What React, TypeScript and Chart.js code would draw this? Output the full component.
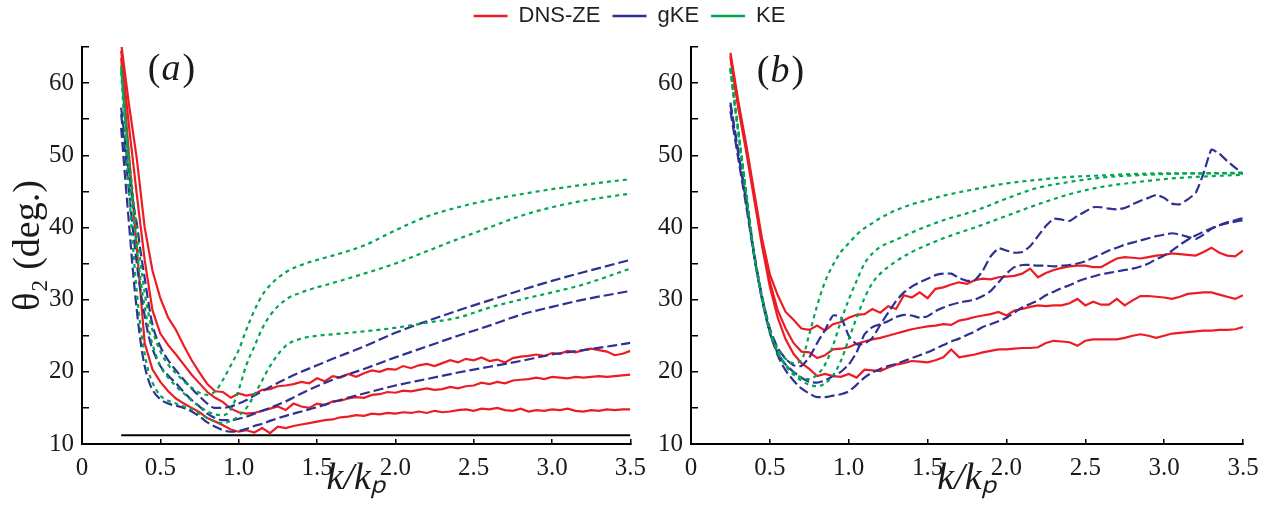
import React, { useEffect, useRef } from 'react';
import { Chart, registerables } from 'chart.js';

Chart.register(...registerables);

const RED = '#ED1C24';
const BLUE = '#2E3192';
const GREEN = '#00A651';
const INK = '#1a1a1a';
const SERIF = "'Liberation Serif', serif";
const SANS = "'Liberation Sans', sans-serif";

const seriesNames = ['DNS-ZE', 'gKE', 'KE'];
const yTitle = 'θ₂ (deg.)';
const xTitle = 'k/kₚ';
const panelLetters = ['a', 'b'];
const xTickLabels = ['0', '0.5', '1.0', '1.5', '2.0', '2.5', '3.0', '3.5'];

// k/kp grids
const kFine = [
  0.25, 0.3, 0.35, 0.4, 0.45, 0.5, 0.55, 0.6, 0.65, 0.7,
  0.75, 0.8, 0.85, 0.9, 0.95, 1.0, 1.05, 1.1, 1.15, 1.2,
  1.25, 1.3, 1.35, 1.4, 1.45, 1.5, 1.55, 1.6, 1.65, 1.7,
  1.75, 1.8, 1.85, 1.9, 1.95, 2.0, 2.05, 2.1, 2.15, 2.2,
  2.25, 2.3, 2.35, 2.4, 2.45, 2.5, 2.55, 2.6, 2.65, 2.7,
  2.75, 2.8, 2.85, 2.9, 2.95, 3.0, 3.05, 3.1, 3.15, 3.2,
  3.25, 3.3, 3.35, 3.4, 3.45, 3.5,
];
const kSmooth = [
  0.25, 0.275, 0.3, 0.325, 0.35, 0.375, 0.4, 0.425, 0.45,
  0.5, 0.55, 0.6, 0.65, 0.7, 0.75, 0.8, 0.85, 0.9, 0.95, 1.0, 1.05, 1.1, 1.15, 1.2,
  1.3, 1.4, 1.5, 1.6,
  1.8, 2.0, 2.2, 2.4, 2.6, 2.8, 3.0, 3.2,
  3.5,
];

// ---------- panel (a) ----------
const dnsA1 = [
  65.5, 57, 49.5, 40, 34, 30.2, 27.5, 25.8, 23.6, 21.6,
  19.9, 18.3, 17.3, 17.2, 16.4, 17.0, 16.7, 16.9, 17.5, 17.6,
  18.0, 18.1, 18.3, 18.6, 18.4, 19.1, 18.7, 19.4, 19.2, 19.7,
  19.3, 19.8, 20.2, 20.0, 20.4, 20.3, 20.8, 20.5, 20.9, 21.1,
  20.8, 21.2, 21.6, 21.3, 21.8, 21.6, 22.0, 21.5, 21.7, 21.3,
  21.9, 22.1, 22.2, 22.4, 22.2, 22.6, 22.5, 22.9, 22.7, 23.0,
  23.2, 23.0, 22.8, 22.3, 22.5, 22.9,
];
const dnsA2 = [
  64.5, 54, 44.5, 35.5, 28.5, 25.3, 23.7, 22.4, 21.0, 19.6,
  18.4, 17.2, 16.4, 15.8, 14.9, 14.4, 14.2, 14.3, 14.6, 14.9,
  15.2, 14.7, 15.6, 15.2, 15.0, 15.6, 15.4, 15.9, 16.0, 16.3,
  16.5, 16.4, 16.8, 16.9, 17.2, 17.1, 17.4, 17.3, 17.5, 17.7,
  17.5, 17.6, 17.9, 17.7, 18.0, 18.1, 18.5, 18.3, 18.6, 18.4,
  18.8, 18.9, 19.0, 19.2, 19.0, 19.3, 19.2, 19.1, 19.3, 19.2,
  19.3, 19.4, 19.3, 19.4, 19.5, 19.6,
];
const dnsA3 = [
  63.5, 50, 37, 24, 20.3, 18.6, 17.3, 16.3, 15.6, 15.0,
  14.4, 13.6, 13.1, 12.6, 12.0, 11.7, 11.9, 11.6, 12.2, 11.5,
  12.4, 12.2, 12.5, 12.7, 12.9, 13.1, 13.3, 13.4, 13.7, 13.8,
  14.0, 13.9, 14.2, 14.1, 14.3, 14.2, 14.4, 14.3, 14.5, 14.3,
  14.6, 14.4, 14.5, 14.7, 14.8, 14.6, 14.9, 14.8, 15.0, 14.7,
  14.6, 14.9, 14.5, 14.7, 14.6, 14.8, 14.7, 14.9, 14.6, 14.5,
  14.7, 14.6, 14.8, 14.7, 14.8, 14.8,
];
const gkeA1 = [
  56.6, 52, 47.5, 43.5, 40.5, 36.5, 33, 29.5, 26.5,
  23.5, 21.6, 20.2, 18.9, 17.7, 16.6, 15.6, 15.0, 15.0, 15.2, 15.6, 16.1, 16.7, 17.3, 17.9,
  19.0, 20.0, 20.9, 21.8,
  23.5, 25.4, 27.0, 28.5, 29.9, 31.3, 32.6, 33.8,
  35.5,
];
const gkeA2 = [
  55.7, 50.5, 45, 39.7, 35, 31, 27.8, 25.0, 23.2,
  20.8, 19.5, 18.4, 17.2, 16.1, 15.2, 14.2, 13.6, 13.3, 13.3, 13.5, 13.8, 14.2, 14.6, 15.0,
  15.9, 17.0, 18.0, 18.9,
  20.4, 22.0, 23.5, 25.0, 26.4, 27.9, 29.0, 30.0,
  31.2,
];
const gkeA3 = [
  53.8, 47, 40.5, 34, 28.5, 24, 20.8, 18.8, 17.5,
  16.2, 15.6, 15.3, 15.0, 14.5, 13.8, 13.0, 12.4, 11.9, 11.7, 11.8, 12.1, 12.5, 12.8, 13.2,
  13.9, 14.5, 15.1, 15.8,
  17.0, 18.1, 19.0, 19.9, 20.7, 21.5, 22.4, 23.0,
  24.0,
];
const keA1 = [
  62.4, 56, 50, 44.5, 39.5, 35, 31, 28, 25.8,
  22.8, 21, 19.8, 18.7, 17.8, 17.1, 16.8, 17.3, 18.9, 20.9, 23.0, 25.9, 28.5, 30.6, 32.0,
  33.8, 34.8, 35.5, 36.1,
  37.5, 39.6, 41.5, 42.8, 43.8, 44.6, 45.3, 45.9,
  46.7,
];
const keA2 = [
  62, 55, 48.5, 42.5, 37, 32.5, 29, 26, 23.8,
  20.8, 19.2, 18.0, 17.0, 16.0, 15.2, 14.5, 14.1, 14.0, 14.8, 17.5, 21, 23.5, 26, 27.8,
  30.0, 31.0, 31.7, 32.3,
  33.6, 35.0, 36.7, 38.4, 40.0, 41.6, 42.8, 43.7,
  44.7,
];
const keA3 = [
  61.5, 53, 45, 37.5, 31, 26, 22.5, 20, 18.5,
  16.7, 16.0, 15.6, 15.2, 14.8, 14.2, 13.6, 13.1, 12.9, 13.2, 13.9, 15.0, 16.8, 18.8, 20.8,
  23.6, 24.6, 25.0, 25.2,
  25.6, 26.1, 26.8, 27.5, 28.9, 30.0, 31.0, 32.1,
  34.3,
];
const baseK = [0.25, 3.5];
const baseTheta = [11.2, 11.2];

// ---------- panel (b) ----------
const dnsB1 = [
  64.2, 57.5, 51.5, 45, 38.5, 33.5, 30.6, 28.3, 27.2, 26.0,
  25.8, 26.4, 25.7, 26.6, 26.9, 27.5, 27.9, 28.0, 28.7, 28.2,
  29.1, 28.7, 30.6, 30.3, 31.0, 30.2, 31.5, 31.7, 32.1, 32.4,
  32.2, 32.7, 32.9, 32.8, 33.1, 33.2, 33.3, 33.6, 34.3, 33.1,
  33.7, 34.1, 34.4, 34.6, 34.7, 34.7, 34.5, 34.5, 35.1, 35.7,
  35.9, 35.8, 35.7, 35.9, 36.1, 36.2, 36.4, 36.3, 36.2, 36.1,
  36.6, 37.2, 36.5, 36.1, 36.0, 36.8,
];
const dnsB2 = [
  63.8, 57, 51, 44.5, 38, 32.5, 28.5, 26.0, 24.0, 22.8,
  22.7, 21.9, 22.3, 23.1, 23.2, 23.4, 23.9, 24.2, 24.5, 24.7,
  25.0, 25.3, 25.6, 25.9, 26.1, 26.3, 26.4, 26.6, 26.5, 27.1,
  27.3, 27.6, 27.8, 28.0, 28.3, 27.8, 28.5, 28.7, 29.0, 29.2,
  29.1, 29.2, 29.2, 29.5, 30.1, 29.2, 29.7, 29.3, 29.3, 30.1,
  29.2, 29.9, 30.5, 30.5, 30.4, 30.3, 30.1, 30.4, 30.8, 30.9,
  31.0, 31.0, 30.7, 30.4, 30.1, 30.6,
];
const dnsB3 = [
  63.5, 56.5, 50.5, 44, 37.5, 31.8, 27.5, 24.5, 22.5, 21.2,
  20.4, 19.4, 19.7, 19.4, 19.3, 19.7, 19.2, 20.3, 20.2, 20.1,
  20.6, 21.0, 21.2, 21.5, 21.4, 21.3, 21.6, 22.0, 23.1, 22.0,
  22.2, 22.4, 22.7, 22.9, 23.1, 23.1, 23.2, 23.3, 23.3, 23.4,
  24.0, 24.3, 24.2, 24.1, 23.6, 24.3, 24.5, 24.5, 24.5, 24.5,
  24.7, 25.0, 25.2, 25.0, 24.7, 25.0, 25.3, 25.4, 25.5, 25.6,
  25.7, 25.7, 25.8, 25.8, 25.9, 26.2,
];
const gkeB1 = [
  57.3, 50.5, 44, 36.5, 30.5, 26.0, 23.3, 21.8, 20.9, 20.8,
  22.0, 24.0, 25.8, 27.8, 27.6, 25.0, 23.8, 23.9, 24.7, 26.5,
  28.2, 29.8, 31.0, 31.8, 32.4, 32.9, 33.4, 33.6, 33.6, 33.0,
  32.6, 32.7, 34.0, 36.0, 37.1, 36.8, 36.5, 36.6, 37.4, 38.8,
  40.2, 41.2, 41.1, 40.9, 41.6, 42.2, 42.8, 42.8, 42.6, 42.5,
  42.7, 43.2, 43.7, 44.1, 44.5, 44.1, 43.3, 43.2, 43.9, 44.8,
  47.5, 50.8, 50.2, 49.2, 48.3, 47.4,
];
const gkeB2 = [
  56.1, 49.5, 43, 36, 30, 25.4, 22.6, 21.0, 20.0, 19.2,
  18.6, 18.5, 18.8, 19.4, 20.0, 21.0, 22.7, 25.2, 26.2, 26.6,
  27.0, 27.6, 27.9, 27.8, 27.5, 27.7, 28.4, 28.9, 29.3, 29.6,
  29.8, 30.0, 30.5, 31.2, 32.4, 33.6, 34.5, 34.8, 34.8, 34.7,
  34.7, 34.6, 34.7, 34.8, 35.0, 35.3, 35.8, 36.3, 36.8, 37.2,
  37.6, 37.9, 38.2, 38.5, 38.8, 39.0, 39.2, 39.0, 38.7, 38.4,
  39.0, 39.8, 40.3, 40.7, 41.0, 41.3,
];
const gkeB3 = [
  57.0, 50.2, 43.5, 36.2, 30.2, 25.5, 22.3, 20.2, 18.8, 17.7,
  17.0, 16.5, 16.5, 16.7, 16.9, 17.3, 18.2, 19.2, 19.9, 20.4,
  20.8, 21.1, 21.5, 21.9, 22.3, 22.7, 23.2, 23.7, 24.2, 24.6,
  25.1, 25.6, 26.2, 26.6, 27.0, 27.5, 28.2, 28.9, 29.4, 29.9,
  30.6, 31.1, 31.6, 32.0, 32.5, 32.9, 33.2, 33.5, 33.7, 33.9,
  34.1, 34.3, 34.6, 35.0, 35.6, 36.1, 36.8, 37.6, 38.3, 38.9,
  39.4, 39.9, 40.3, 40.6, 40.8, 41.0,
];
const keB1 = [
  62.1, 57.8, 53.5, 49.2, 45, 40.7, 36.3, 33.2, 30.5,
  25.8, 23.2, 21.8, 21.2, 21.6, 25.2, 29.2, 32.5, 34.8, 36.6, 37.8, 39.0, 39.9, 40.6, 41.3,
  42.4, 43.2, 43.8, 44.4,
  45.3, 46.1, 46.6, 47.0, 47.2, 47.4, 47.5, 47.5,
  47.6,
];
const keB2 = [
  62.0, 57.5, 53.3, 49, 44.8, 40.5, 36.3, 33, 30.3,
  25.6, 22.7, 21.0, 19.9, 19.2, 19.0, 19.6, 21.0, 23.6, 27.0, 30.0, 32.6, 35.0, 36.4, 37.3,
  38.3, 39.3, 40.2, 41.0,
  42.3, 44.0, 45.5, 46.3, 46.9, 47.2, 47.4, 47.5,
  47.5,
];
const keB3 = [
  61.8, 57.3, 53, 48.8, 44.5, 40.3, 36.2, 33, 30.2,
  25.7, 22.7, 20.8, 19.6, 18.8, 18.2, 18.0, 18.4, 19.5, 21.5, 24.5, 27.5, 30.2, 32.3, 33.6,
  35.3, 36.6, 37.6, 38.5,
  40.0, 41.6, 43.2, 44.6, 45.6, 46.2, 46.7, 47.0,
  47.3,
];

function pts(ks: number[], vs: number[]) {
  return ks.map((k, i) => ({ x: k, y: vs[i] }));
}

function dns(ks: number[], vs: number[]) {
  return { label: seriesNames[0], data: pts(ks, vs), borderColor: RED, backgroundColor: RED, borderWidth: 2.2, pointRadius: 0, tension: 0, fill: false };
}
function gke(ks: number[], vs: number[], smooth = true) {
  return {
    label: seriesNames[1], data: pts(ks, vs), borderColor: BLUE, backgroundColor: BLUE, borderWidth: 2.2, pointRadius: 0,
    borderDash: [10, 4], fill: false,
    ...(smooth ? { cubicInterpolationMode: 'monotone' } : { tension: 0.15 }),
  };
}
function ke(ks: number[], vs: number[]) {
  return {
    label: seriesNames[2], data: pts(ks, vs), borderColor: GREEN, backgroundColor: GREEN, borderWidth: 2.2, pointRadius: 0,
    borderDash: [4, 4], fill: false, cubicInterpolationMode: 'monotone',
  };
}

const panelLabelPlugin = {
  id: 'panelLabel',
  afterDraw(chart: any, _args: any, opts: any) {
    const { ctx, scales } = chart;
    const x0 = scales.x.getPixelForValue(opts.k);
    const y0 = scales.y.getPixelForValue(opts.theta);
    ctx.save();
    ctx.fillStyle = INK;
    ctx.textBaseline = 'alphabetic';
    ctx.textAlign = 'left';
    let cx = x0;
    ctx.font = `38px ${SERIF}`;
    ctx.fillText('(', cx, y0);
    cx += ctx.measureText('(').width + 1;
    ctx.font = `italic 38px ${SERIF}`;
    ctx.fillText(opts.text, cx, y0);
    cx += ctx.measureText(opts.text).width + 2;
    ctx.font = `38px ${SERIF}`;
    ctx.fillText(')', cx, y0);
    ctx.restore();
  },
};

function makeConfig(p: any) {
  return {
    type: 'line',
    data: { datasets: p.datasets },
    options: {
      animation: false,
      responsive: false,
      events: [],
      layout: { padding: { left: 0, top: 47, right: p.padRight, bottom: 0 } },
      plugins: {
        legend: { display: false },
        tooltip: { enabled: false },
        panelLabel: { text: p.letter, k: p.labelK, theta: p.labelTheta },
      },
      scales: {
        x: {
          type: 'linear', min: 0, max: 3.5,
          border: { display: true, color: '#000', width: 2 },
          grid: { drawOnChartArea: false, drawTicks: true, tickLength: -5, color: '#000', lineWidth: 1.5 },
          ticks: {
            stepSize: 0.5, autoSkip: false, maxRotation: 0, padding: 14, color: INK,
            font: { family: SERIF, size: 25 },
            callback: (v: number) => xTickLabels[Math.round(v / 0.5)] ?? '',
          },
          title: {
            display: true, text: xTitle, color: INK,
            font: { family: SERIF, size: 38, style: 'italic' },
            padding: { top: 0, bottom: 16 },
          },
          afterFit: (s: any) => { s.height = 74; },
        },
        y: {
          type: 'linear', min: 10, max: 65,
          border: { display: true, color: '#000', width: 2 },
          grid: { drawOnChartArea: false, drawTicks: true, tickLength: -7, color: '#000', lineWidth: 1.5 },
          ticks: {
            stepSize: 5, autoSkip: false, padding: 15, color: INK,
            font: { family: SERIF, size: 25 },
            callback: (v: number) => (v % 10 === 0 ? String(v) : ''),
          },
          title: {
            display: p.showYTitle, text: yTitle, color: INK,
            font: { family: SERIF, size: 38 },
            padding: { top: 6, bottom: 0 },
          },
          afterFit: (s: any) => { s.width = p.axisWidth; },
        },
      },
    },
    plugins: [panelLabelPlugin],
  };
}

function ChartCanvas({ left, top, width, height, config }: any) {
  const ref = useRef<HTMLCanvasElement | null>(null);
  useEffect(() => {
    if (!ref.current) return;
    const chart = new Chart(ref.current, config());
    let alive = true;
    const fonts: any = (document as any).fonts;
    if (fonts && fonts.load) {
      Promise.all([
        fonts.load(`25px 'Liberation Serif'`),
        fonts.load(`italic 38px 'Liberation Serif'`),
        fonts.load(`22px 'Liberation Sans'`),
      ]).then(() => { if (alive) chart.update('none'); }).catch(() => {});
    }
    return () => { alive = false; chart.destroy(); };
  }, []);
  return (
    <canvas
      ref={ref}
      width={width}
      height={height}
      style={{ position: 'absolute', left, top, width, height }}
    />
  );
}

const panelAConfig = () => makeConfig({
  letter: panelLetters[0], labelK: 0.42, labelTheta: 60.4, showYTitle: true, axisWidth: 82, padRight: 26,
  datasets: [
    ke(kSmooth, keA1), ke(kSmooth, keA2), ke(kSmooth, keA3),
    gke(kSmooth, gkeA1), gke(kSmooth, gkeA2), gke(kSmooth, gkeA3),
    dns(kFine, dnsA1), dns(kFine, dnsA2), dns(kFine, dnsA3),
    { label: 'baseline', data: pts(baseK, baseTheta), borderColor: '#000', borderWidth: 2, pointRadius: 0, tension: 0, fill: false },
  ],
});

const panelBConfig = () => makeConfig({
  letter: panelLetters[1], labelK: 0.417, labelTheta: 60.1, showYTitle: false, axisWidth: 51, padRight: 34,
  datasets: [
    ke(kSmooth, keB1), ke(kSmooth, keB2), ke(kSmooth, keB3),
    gke(kFine, gkeB1, false), gke(kFine, gkeB2, false), gke(kFine, gkeB3, true),
    dns(kFine, dnsB1), dns(kFine, dnsB2), dns(kFine, dnsB3),
  ],
});

const legendConfig = () => ({
  type: 'line',
  data: {
    datasets: [
      { label: seriesNames[0], data: [], borderColor: RED, backgroundColor: RED, borderWidth: 2.5 },
      { label: seriesNames[1], data: [], borderColor: BLUE, backgroundColor: BLUE, borderWidth: 2.5, borderDash: [9, 3.5] },
      { label: seriesNames[2], data: [], borderColor: GREEN, backgroundColor: GREEN, borderWidth: 2.5, borderDash: [3.5, 3.5] },
    ],
  },
  options: {
    animation: false,
    responsive: false,
    events: [],
    layout: { padding: 0 },
    scales: { x: { display: false }, y: { display: false } },
    plugins: {
      tooltip: { enabled: false },
      legend: {
        display: true, position: 'top', align: 'center',
        labels: {
          usePointStyle: true, pointStyle: 'line', pointStyleWidth: 34, boxHeight: 22,
          padding: 12, color: '#231F20',
          font: { family: SANS, size: 22 },
        },
      },
    },
  },
});

export default function App() {
  return (
    <div style={{ position: 'absolute', left: 0, top: 0, width: 1277, height: 518, background: '#fff', overflow: 'hidden' }}>
      <ChartCanvas left={0} top={0} width={660} height={518} config={panelAConfig} />
      <ChartCanvas left={640} top={0} width={637} height={518} config={panelBConfig} />
      <ChartCanvas left={-9} top={-7} width={1277} height={120} config={legendConfig} />
    </div>
  );
}
